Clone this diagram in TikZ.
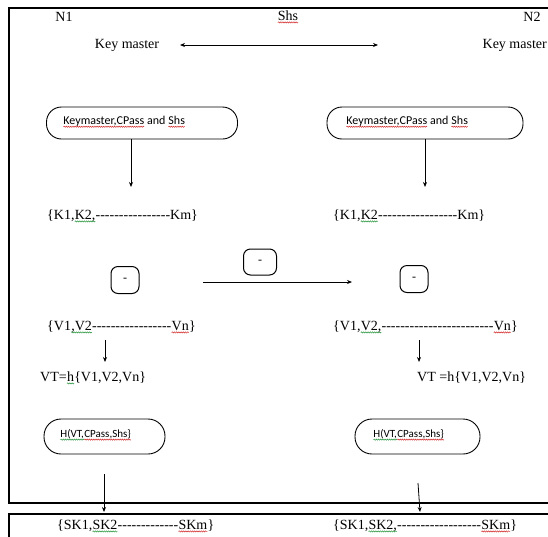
\documentclass[tikz,border=0pt]{standalone}
\usepackage{fontspec}
\setmainfont{Liberation Serif}[Ligatures=TeXOff]
\newfontfamily\smallsans{Carlito}
\usetikzlibrary{arrows.meta,decorations.pathmorphing}
\definecolor{spred}{RGB}{210,40,40}
\definecolor{spgreen}{RGB}{40,150,60}
\newcommand\sqw[2]{\tikz[baseline=(w.base),sharp corners]{\node[inner sep=0pt,outer sep=0pt,minimum width=0pt,minimum height=0pt,text width=,draw=none] (w) {#2};
  \draw[#1,line width=0.5pt,decorate,decoration={snake,amplitude=0.6pt,segment length=2.2pt}]
  ([yshift=-2pt]w.base west) -- ([yshift=-2pt]w.base east);}}
\begin{document}
\begin{tikzpicture}[x=1pt,y=-1pt,
  txt/.style={inner sep=0pt,font=\fontsize{14}{16}\selectfont},
  pill/.style={draw,line width=0.9pt,rounded corners=15pt,inner sep=0pt,
    font=\smallsans\fontsize{12}{14}\selectfont},
  minibox/.style={draw,line width=1pt,rounded corners=7pt,inner sep=0pt,
    font=\fontsize{12}{14}\selectfont},
  arr/.style={line width=0.8pt,-{Stealth[length=5pt,width=4pt]}},
  darr/.style={line width=0.8pt,{Stealth[length=5pt,width=4pt]}-{Stealth[length=5pt,width=4pt]}},
  frame/.style={line width=1.1pt}]
\useasboundingbox (0,0) rectangle (548,536);
\clip (0,0) rectangle (548,536);
\fill[white] (0,0) rectangle (548,536);
% frames
\draw[frame] (600,503) -- (9,503) -- (9,8) -- (600,8);
\draw[frame] (600,514) -- (9,514) -- (9,600);
% header
\node[txt] (n1) at (64,17) {N1};
\node[txt] (shs) at (288,17) {\sqw{spred}{Shs}};
\node[txt] (n2) at (532,17) {N2};
\node[txt] (km1) at (127,45) {Key master};
\node[txt,anchor=east] (km2) at (547,45) {Key master};
\coordinate (da1) at (180,45);
\coordinate (da2) at (378,45);
\draw[darr] (da1) -- (da2);
% ellipses
\node[pill,minimum width=191pt,minimum height=32pt] (e1) at (142,123) {};
\node[pill,minimum width=196pt,minimum height=32pt] (e2) at (425,123) {};
\node[txt,anchor=west,font=\smallsans\fontsize{12}{14}\selectfont] (e1t) at (63,122) {\sqw{spred}{Keymaster,CPass} and \sqw{spred}{Shs}};
\node[txt,anchor=west,font=\smallsans\fontsize{12}{14}\selectfont] (e2t) at (346,122) {\sqw{spred}{Keymaster,CPass} and \sqw{spred}{Shs}};
\coordinate (a1s) at (131,139);
\coordinate (a1e) at (131,187);
\coordinate (a2s) at (425,139);
\coordinate (a2e) at (425,187);
\draw[arr] (a1s) -- (a1e);
\draw[arr] (a2s) -- (a2e);
% K rows
\node[txt,anchor=west] (k1) at (47,216) {\{K1,\sqw{spgreen}{K2,}----------------Km\}};
\node[txt,anchor=west] (k2) at (333,216) {\{K1,\sqw{spgreen}{K2}-----------------Km\}};
% mini boxes
\node[minibox,minimum width=28pt,minimum height=27pt] (s1) at (125,280) {-};
\node[minibox,minimum width=33pt,minimum height=26pt] (s2) at (260,262) {-};
\node[minibox,minimum width=28pt,minimum height=27pt] (s3) at (414,279) {-};
\coordinate (ha1) at (203,282);
\coordinate (ha2) at (352,282);
\draw[arr] (ha1) -- (ha2);
% V rows
\node[txt,anchor=west] (v1) at (47,327) {\{V1\sqw{spgreen}{,V2}-----------------\sqw{spred}{Vn}\}};
\node[txt,anchor=west] (v2) at (333,327) {\{V1,\sqw{spgreen}{V2,}------------------------\sqw{spred}{Vn}\}};
\coordinate (b1s) at (105,340);
\coordinate (b1e) at (105,362);
\coordinate (b2s) at (419,340);
\coordinate (b2e) at (419,362);
\draw[arr] (b1s) -- (b1e);
\draw[arr] (b2s) -- (b2e);
% VT rows
\node[txt,anchor=west] (vt1) at (40,378) {VT=\sqw{spgreen}{h}\{V1,V2,Vn\}};
\node[txt,anchor=west] (vt2) at (417,378) {VT =h\{V1,V2,Vn\}};
% H boxes
\node[pill,rounded corners=17pt,minimum width=121pt,minimum height=35pt] (h1) at (104.5,436.5) {};
\node[pill,rounded corners=17pt,minimum width=125pt,minimum height=35pt] (h2) at (417.5,436.5) {};
\node[txt,anchor=west,font=\smallsans\fontsize{11}{13}\selectfont] (h1t) at (60,435) {\sqw{spgreen}{H(VT,}\sqw{spred}{CPass,Shs\}}};
\node[txt,anchor=west,font=\smallsans\fontsize{11}{13}\selectfont] (h2t) at (373,435) {\sqw{spgreen}{H(VT,}\sqw{spred}{CPass,Shs\}}};
\coordinate (c1s) at (104,474);
\coordinate (c1e) at (104,512);
\coordinate (c2s) at (418,483);
\coordinate (c2e) at (420,512);
\draw[arr] (c1s) -- (c1e);
\draw[arr] (c2s) -- (c2e);
% SK rows
\node[txt,anchor=west] (sk1) at (57,526) {\{SK1,\sqw{spgreen}{SK2}-------------\sqw{spred}{SKm}\}};
\node[txt,anchor=west] (sk2) at (333,526) {\{SK1,\sqw{spgreen}{SK2,}------------------\sqw{spred}{SKm}\}};
\end{tikzpicture}
\end{document}
